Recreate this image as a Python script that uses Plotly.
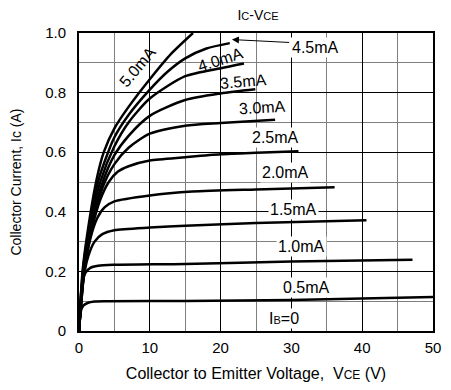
import plotly.graph_objects as go

# Base current levels (mA) -> curve data (VCE in V, IC in A)
vce_05 = [0, 0.25, 0.6, 1.2, 2.2, 4, 15, 30, 50]
ic_05 = [0, 0.065, 0.085, 0.094, 0.099, 0.1, 0.101, 0.104, 0.114]

vce_10 = [0, 0.4, 0.9, 1.6, 2.7, 5, 15, 30, 47.1]
ic_10 = [0, 0.15, 0.195, 0.212, 0.219, 0.222, 0.225, 0.233, 0.239]

vce_15 = [0, 0.6, 1.3, 2.2, 3.3, 5, 10, 15, 25, 40.6]
ic_15 = [0, 0.17, 0.25, 0.3, 0.325, 0.338, 0.347, 0.353, 0.362, 0.372]

vce_20 = [0, 0.7, 1.6, 2.6, 3.6, 5, 10, 16, 25, 36.1]
ic_20 = [0, 0.19, 0.31, 0.38, 0.415, 0.435, 0.455, 0.468, 0.475, 0.482]

vce_25 = [0, 0.75, 1.8, 3.0, 4.2, 5.5, 7, 10, 15, 20, 25, 31]
ic_25 = [0, 0.2, 0.34, 0.44, 0.5, 0.535, 0.553, 0.572, 0.583, 0.593, 0.598, 0.603]

vce_30 = [0, 0.7, 1.8, 3.3, 5, 7, 10, 15, 20, 27.7]
ic_30 = [0, 0.2, 0.35, 0.48, 0.56, 0.615, 0.662, 0.689, 0.698, 0.709]

vce_35 = [0, 0.65, 1.7, 3.2, 5, 7, 10, 15, 20, 24.9]
ic_35 = [0, 0.2, 0.35, 0.49, 0.59, 0.655, 0.722, 0.775, 0.797, 0.811]

vce_40 = [0, 0.6, 1.5, 3, 5, 7, 10, 15, 20, 23.3]
ic_40 = [0, 0.2, 0.34, 0.5, 0.62, 0.7, 0.78, 0.855, 0.882, 0.898]

vce_45 = [0, 0.55, 1.3, 2.8, 5, 7, 10, 12.5, 15, 18, 21.3]
ic_45 = [0, 0.2, 0.33, 0.51, 0.65, 0.725, 0.81, 0.87, 0.915, 0.948, 0.966]

vce_50 = [0, 0.5, 1.2, 2.5, 3.5, 5, 7, 10, 13, 16.1]
ic_50 = [0, 0.2, 0.33, 0.51, 0.6, 0.68, 0.752, 0.845, 0.93, 1.0]

x_ticks = [0, 10, 20, 30, 40, 50]
y_ticks = [0, 0.2, 0.4, 0.6, 0.8, 1.0]
y_ticktext = ["0", "0.2", "0.4", "0.6", "0.8", "1.0"]

# label texts and positions (data coords) and angles
label_text = ["5.0mA", "4.0mA", "3.5mA", "3.0mA", "2.5mA", "2.0mA",
              "1.5mA", "1.0mA", "0.5mA", "I<span style='font-size:11px'>B</span>=0"]
label_x = [8.3, 20.0, 23.2, 25.9, 27.7, 29.1, 30.3, 31.4, 32.2, 28.9]
label_y = [0.888, 0.912, 0.836, 0.749, 0.651, 0.533, 0.408, 0.283, 0.145, 0.042]
label_angle = [-50, -18, -5, -3, 0, 0, 0, 0, 0, 0]

arrow_label = "4.5mA"
arrow_text_x, arrow_text_y = 33.4, 0.951
arrow_head_x, arrow_head_y = 21.6, 0.978
arrow_tail_x, arrow_tail_y = 29.9, 0.968

FONT = "Liberation Sans, Arial, sans-serif"

fig = go.Figure()
for vx, iy in [(vce_05, ic_05), (vce_10, ic_10), (vce_15, ic_15), (vce_20, ic_20),
               (vce_25, ic_25), (vce_30, ic_30), (vce_35, ic_35), (vce_40, ic_40),
               (vce_45, ic_45), (vce_50, ic_50)]:
    fig.add_trace(go.Scatter(x=vx, y=iy, mode="lines",
                             line=dict(color="black", width=2.5, shape="spline", smoothing=0.7),
                             showlegend=False, hoverinfo="skip", cliponaxis=True))

for t, x, y, a in zip(label_text, label_x, label_y, label_angle):
    fig.add_annotation(x=x, y=y, text=t, showarrow=False, textangle=a,
                       bgcolor="white" if a == 0 else "rgba(255,255,255,0)",
                       borderpad=1, font=dict(size=16, color="black", family=FONT))

fig.add_annotation(x=arrow_text_x, y=arrow_text_y, text=arrow_label, showarrow=False,
                   bgcolor="white", borderpad=1, font=dict(size=16, color="black", family=FONT))
fig.add_annotation(x=arrow_head_x, y=arrow_head_y, ax=arrow_tail_x, ay=arrow_tail_y,
                   axref="x", ayref="y", text="", showarrow=True, arrowhead=2,
                   arrowsize=1.4, arrowwidth=1, arrowcolor="black", standoff=0)

fig.update_layout(
    width=451, height=390,
    margin=dict(l=79, r=10, t=33, b=58),
    paper_bgcolor="white", plot_bgcolor="white",
    font=dict(family=FONT, size=15, color="black"),
    title=dict(text="I<span style='font-size:11px'>C</span>-V<span style='font-size:11px'>CE</span>",
               x=0.572, xanchor="center", y=0.961, yanchor="middle",
               font=dict(size=14, color="black", family=FONT)),
    xaxis=dict(range=[0, 50], tickvals=x_ticks, showgrid=True, gridcolor="black", gridwidth=1,
               minor=dict(dtick=5, showgrid=True, gridcolor="#7f7f7f", gridwidth=1),
               showline=True, linecolor="black", linewidth=2, mirror=True, zeroline=False,
               ticks="", tickfont=dict(size=15), ticklabelstandoff=2,
               title=dict(text="Collector to Emitter Voltage,  V<span style='font-size:12px'>CE</span> (V)",
                          font=dict(size=16), standoff=13)),
    yaxis=dict(range=[0, 1.0], tickvals=y_ticks, ticktext=y_ticktext, showgrid=True,
               gridcolor="black", gridwidth=1,
               minor=dict(dtick=0.1, showgrid=True, gridcolor="#7f7f7f", gridwidth=1),
               showline=True, linecolor="black", linewidth=2, mirror=True, zeroline=False,
               ticks="", tickfont=dict(size=15), ticklabelstandoff=8,
               title=dict(text="Collector Current, Ic (A)", font=dict(size=14), standoff=20)),
)

fig.write_html("out.html")
